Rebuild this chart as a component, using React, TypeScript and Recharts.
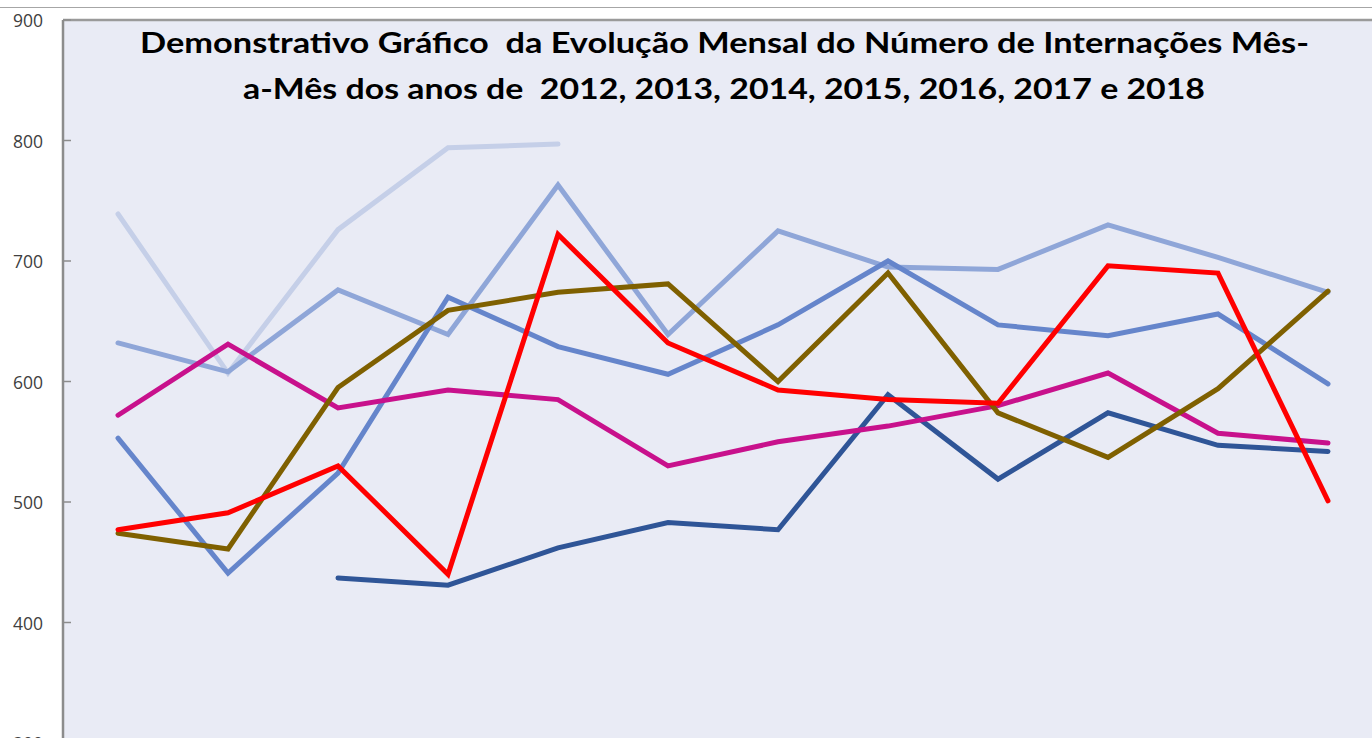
import React from 'react';
import { LineChart, Line, XAxis, YAxis, CartesianGrid, ReferenceLine } from 'recharts';

const months = ['jan', 'fev', 'mar', 'abr', 'mai', 'jun', 'jul', 'ago', 'set', 'out', 'nov', 'dez'];

const s2012 = [null, null, 437, 431, 462, 483, 477, 589, 519, 574, 547, 542];
const s2013 = [477, 491, 530, 440, 722, 632, 593, 585, 582, 696, 690, 501];
const s2014 = [474, 461, 595, 659, 674, 681, 600, 690, 574, 537, 594, 675];
const s2015 = [572, 631, 578, 593, 585, 530, 550, 563, 580, 607, 557, 549];
const s2016 = [553, 441, 524, 670, 629, 606, 647, 700, 647, 638, 656, 598];
const s2017 = [632, 608, 676, 639, 763, 639, 725, 695, 693, 730, 703, 674];
const s2018 = [739, 607, 726, 794, 797, null, null, null, null, null, null, null];

const yTicks = [300, 400, 500, 600, 700, 800, 900];

const titleLine1 = 'Demonstrativo Gráfico  da Evolução Mensal do Número de Internações Mês-';
const titleLine2 = 'a-Mês dos anos de  2012, 2013, 2014, 2015, 2016, 2017 e 2018';

const data = months.map((m, i) => ({
  month: m,
  y2012: s2012[i],
  y2013: s2013[i],
  y2014: s2014[i],
  y2015: s2015[i],
  y2016: s2016[i],
  y2017: s2017[i],
  y2018: s2018[i],
}));

const YTick = (props: any) => {
  const { x, y, payload } = props;
  return (
    <g>
      <line x1={x} x2={x + 8} y1={y} y2={y} stroke="#8C8C8C" strokeWidth={1.5} />
      <text
        x={x - 20}
        y={y}
        textAnchor="end"
        dominantBaseline="central"
        fontFamily="'Open Sans', sans-serif"
        fontSize={17.5}
        fill="#404040"
      >
        {payload.value}
      </text>
    </g>
  );
};

const lineProps = {
  type: 'linear' as const,
  dot: false,
  activeDot: false,
  strokeWidth: 5,
  strokeLinecap: 'round' as const,
  isAnimationActive: false,
  connectNulls: false,
};

export default function App() {
  return (
    <div
      style={{
        position: 'absolute',
        left: 0,
        top: 0,
        width: 1372,
        height: 738,
        overflow: 'hidden',
        background: '#FFFFFF',
      }}
    >
      <div
        style={{
          position: 'absolute',
          left: 0,
          top: 7,
          width: 1372,
          height: 0,
          borderTop: '1px solid #A6A6A6',
        }}
      />
      <div style={{ position: 'absolute', left: 0, top: 0 }}>
        <LineChart width={1400} height={760} data={data} margin={{ top: 20, right: 17, bottom: 17, left: 0 }}>
          <CartesianGrid horizontal={false} vertical={false} fill="#E9EBF5" stroke="none" />
          <XAxis dataKey="month" hide padding={{ left: 55, right: 55 }} />
          <YAxis
            width={63}
            domain={[300, 900]}
            ticks={yTicks}
            interval={0}
            tickSize={0}
            tickMargin={0}
            tick={<YTick />}
            axisLine={{ stroke: '#8C8C8C', strokeWidth: 2.5 }}
            tickLine={false}
          />
          <ReferenceLine y={900} stroke="#9A9A9A" strokeWidth={2.5} />
          <Line {...lineProps} dataKey="y2018" stroke="#C5CFE8" />
          <Line {...lineProps} dataKey="y2017" stroke="#8FA6D8" />
          <Line {...lineProps} dataKey="y2016" stroke="#6585CB" />
          <Line {...lineProps} dataKey="y2012" stroke="#2F5597" />
          <Line {...lineProps} dataKey="y2015" stroke="#C8118C" />
          <Line {...lineProps} dataKey="y2014" stroke="#7F6000" />
          <Line {...lineProps} dataKey="y2013" stroke="#FF0000" />
        </LineChart>
      </div>
      <svg
        width={1372}
        height={120}
        style={{ position: 'absolute', left: 0, top: 0, pointerEvents: 'none' }}
      >
        <text
          x={140}
          y={53}
          textLength={1169}
          lengthAdjust="spacingAndGlyphs"
          fontFamily="Lato, 'Open Sans', sans-serif"
          fontWeight={700}
          fontSize={29}
          fill="#000000"
          style={{ whiteSpace: 'pre' }}
        >
          {titleLine1}
        </text>
        <text
          x={243}
          y={99}
          textLength={962}
          lengthAdjust="spacingAndGlyphs"
          fontFamily="Lato, 'Open Sans', sans-serif"
          fontWeight={700}
          fontSize={29}
          fill="#000000"
          style={{ whiteSpace: 'pre' }}
        >
          {titleLine2}
        </text>
      </svg>
    </div>
  );
}
